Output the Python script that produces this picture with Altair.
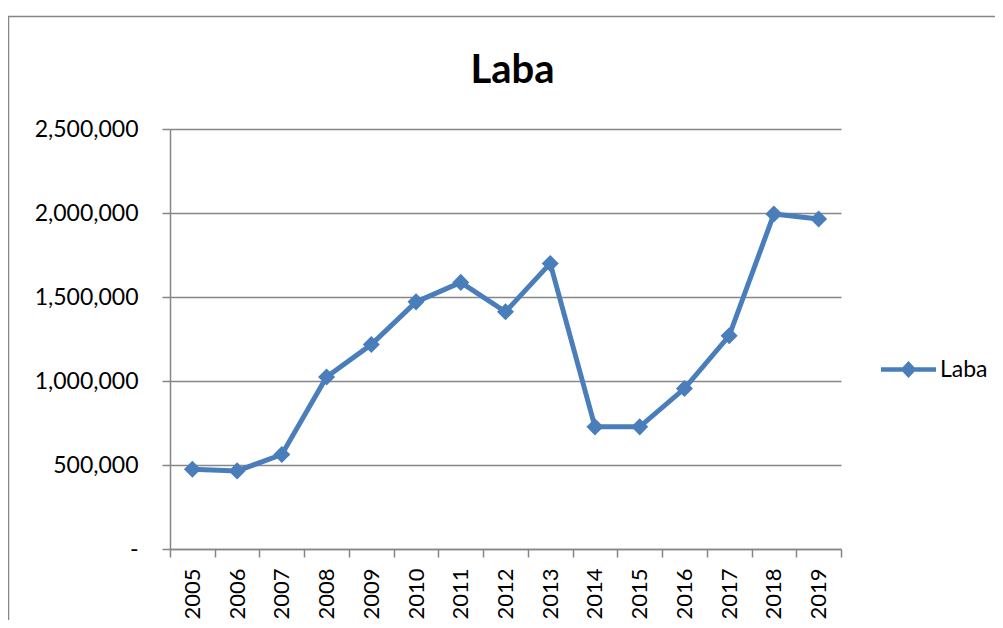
import altair as alt
import pandas as pd

years = [2005, 2006, 2007, 2008, 2009, 2010, 2011, 2012, 2013, 2014, 2015, 2016, 2017, 2018, 2019]
laba = [475000, 465000, 562000, 1024000, 1217000, 1471000, 1587000, 1412000, 1700000,
        727000, 727000, 955000, 1269000, 1994000, 1964000]
series_name = "Laba"
y_ticks = [0, 500000, 1000000, 1500000, 2000000, 2500000]

df = pd.DataFrame({"Tahun": years, "Laba": laba, "Seri": [series_name] * len(years)})

LINE = "#4A7EBB"
GRID = "#868686"
FONT = "Lato"

x_values = sorted(set([y - 0.5 for y in years] + years + [years[-1] + 0.5]))

x_enc = alt.X(
    "Tahun:Q",
    scale=alt.Scale(domain=[years[0] - 0.5, years[-1] + 0.5], nice=False, zero=False),
    axis=alt.Axis(
        title=None,
        values=x_values,
        labelExpr="datum.value % 1 == 0 ? toString(datum.value) : ''",
        tickOpacity={"condition": {"test": "datum.value % 1 == 0", "value": 0}, "value": 1},
        labelAngle=-90,
        labelOverlap=False,
        labelFlush=False,
        labelFont=FONT,
        labelFontSize=22,
        labelColor="black",
        labelPadding=11,
        tickSize=8,
        tickColor=GRID,
        tickWidth=1.5,
        domainColor=GRID,
        domainWidth=1.5,
        grid=False,
    ),
)

y_enc = alt.Y(
    "Laba:Q",
    scale=alt.Scale(domain=[0, 2500000], nice=False),
    axis=alt.Axis(
        title=None,
        values=y_ticks,
        labelExpr="datum.value == 0 ? '-' : format(datum.value, ',')",
        labelFont=FONT,
        labelFontSize=23,
        labelColor="black",
        labelPadding=24,
        tickSize=8,
        tickColor=GRID,
        tickWidth=1.5,
        domainColor=GRID,
        domainWidth=1.5,
        grid=True,
        gridColor=GRID,
        gridWidth=1.5,
    ),
)

base = alt.Chart(df)

line = base.mark_line(color=LINE, strokeWidth=5).encode(x=x_enc, y=y_enc)

legend_path = "M-1,-0.08L1,-0.08L1,0.08L-1,0.08Z M0,-0.31L0.29,0L0,0.31L-0.29,0Z"

points = base.mark_point(shape="diamond", filled=True, size=290, opacity=1).encode(
    x=x_enc,
    y=y_enc,
    color=alt.Color(
        "Seri:N",
        scale=alt.Scale(range=[LINE]),
        legend=alt.Legend(
            title=None,
            orient="none",
            legendX=711,
            legendY=213,
            padding=0,
            symbolType=legend_path,
            symbolSize=3025,
            symbolStrokeWidth=0,
            symbolOpacity=1,
            labelFont=FONT,
            labelFontSize=23,
            labelColor="black",
            labelOffset=4,
        ),
    ),
)

border = alt.Chart(alt.Data(values=[{"b": 1}])).mark_rect(
    fill="white", fillOpacity=0, stroke=GRID, strokeWidth=1.5
).encode(
    x=alt.value(-161.5), y=alt.value(-112.5), x2=alt.value(1000), y2=alt.value(700)
)

chart = alt.layer(border, line, points).properties(
    width=671,
    height=420,
    autosize=alt.AutoSizeParams(type="none"),
    padding={"left": 162, "top": 121, "right": 154, "bottom": 71},
    title=alt.TitleParams(
        "Laba", font=FONT, fontSize=40, fontWeight="bold", color="black",
        anchor="middle", baseline="alphabetic", dx=7, offset=-107,
    ),
).configure_view(stroke=None)

chart.save("out.html", embed_options={"renderer": "svg", "actions": False})
